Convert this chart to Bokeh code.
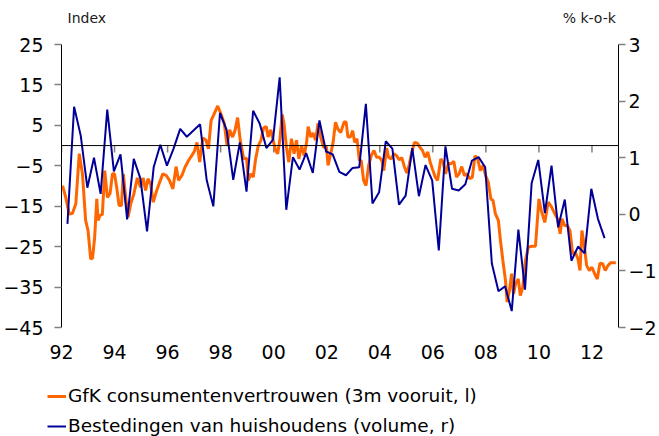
from bokeh.plotting import figure
from bokeh.models import Range1d, LinearAxis, FixedTicker, Legend, LegendItem, Label, Span
from bokeh.embed import file_html
from bokeh.resources import INLINE

FONT = "DejaVu Sans"

# GfK consumer confidence (3m ahead), left axis
gfk_years = [1992.04, 1992.16, 1992.29, 1992.41, 1992.54, 1992.67, 1992.79, 1992.91, 1993.00, 1993.10,
             1993.17, 1993.25, 1993.33, 1993.38, 1993.45, 1993.54, 1993.63, 1993.73, 1993.83, 1993.92,
             1994.00, 1994.08, 1994.17, 1994.26, 1994.33, 1994.42, 1994.51, 1994.61, 1994.73, 1994.86,
             1994.98, 1995.08, 1995.17, 1995.26, 1995.36, 1995.46, 1995.57, 1995.70, 1995.82, 1995.95,
             1996.07, 1996.20, 1996.32, 1996.41, 1996.54, 1996.66, 1996.79, 1996.91, 1997.01, 1997.11,
             1997.21, 1997.33, 1997.45, 1997.54, 1997.64, 1997.76, 1997.89, 1998.02, 1998.14, 1998.24,
             1998.34, 1998.45, 1998.54, 1998.64, 1998.74, 1998.87, 1998.98, 1999.04, 1999.14, 1999.23,
             1999.32, 1999.42, 1999.52, 1999.62, 1999.72, 1999.79, 1999.89, 1999.98, 2000.07, 2000.15,
             2000.23, 2000.32, 2000.39, 2000.48, 2000.57, 2000.67, 2000.77, 2000.86, 2000.95, 2001.05,
             2001.15, 2001.24, 2001.30, 2001.40, 2001.48, 2001.58, 2001.67, 2001.77, 2001.88, 2001.99,
             2002.05, 2002.15, 2002.24, 2002.33, 2002.42, 2002.53, 2002.65, 2002.73, 2002.80, 2002.89,
             2002.98, 2003.05, 2003.14, 2003.23, 2003.30, 2003.39, 2003.48, 2003.58, 2003.68, 2003.78,
             2003.88, 2003.98, 2004.08, 2004.15, 2004.26, 2004.33, 2004.43, 2004.53, 2004.63, 2004.73,
             2004.83, 2004.93, 2005.02, 2005.11, 2005.21, 2005.31, 2005.41, 2005.51, 2005.61, 2005.71,
             2005.81, 2005.90, 2005.98, 2006.09, 2006.18, 2006.30, 2006.39, 2006.48, 2006.59, 2006.69,
             2006.79, 2006.89, 2006.99, 2007.09, 2007.19, 2007.29, 2007.39, 2007.49, 2007.59, 2007.69,
             2007.79, 2007.89, 2007.99, 2008.09, 2008.19, 2008.27, 2008.36, 2008.47, 2008.55, 2008.64,
             2008.74, 2008.80, 2008.89, 2008.97, 2009.04, 2009.12, 2009.22, 2009.30, 2009.39, 2009.49,
             2009.60, 2009.74, 2009.87, 2010.00, 2010.09, 2010.22, 2010.35, 2010.47, 2010.60, 2010.70,
             2010.80, 2010.87, 2010.97, 2011.07, 2011.17, 2011.27, 2011.37, 2011.47, 2011.55, 2011.62,
             2011.70, 2011.80, 2011.90, 2012.00, 2012.10, 2012.20, 2012.30, 2012.40, 2012.50, 2012.60,
             2012.70, 2012.90]
gfk_values = [-9.9, -12.8, -16.9, -16.8, -14.4, -2.0, -7.0, -18.5, -21.0, -28.0,
              -27.9, -22.7, -13.2, -18.5, -17.3, -17.0, -6.2, -12.8, -11.9, -7.0,
              -7.0, -10.3, -14.8, -14.8, -7.0, -12.8, -17.7, -14.4, -11.9, -8.0,
              -10.3, -8.0, -11.1, -8.2, -9.5, -14.0, -11.5, -9.1, -7.0, -7.4,
              -8.6, -10.7, -5.2, -8.6, -7.4, -5.3, -3.7, -2.5, -1.4, 0.8,
              -4.1, 1.9, 1.3, -0.8, 6.2, 7.9, 9.8, 7.7, 5.4, 0.0,
              3.9, 2.1, 3.7, 6.9, 1.3, -3.3, -3.1, -8.6, -7.0, -7.8,
              -3.3, 0.0, 1.3, 4.4, 4.7, 2.1, 3.9, 1.3, -1.2, -2.0,
              1.3, 7.7, 5.4, -0.4, -4.1, 1.7, -2.0, 1.3, -3.3, 0.0,
              -2.5, 0.8, 4.7, 2.1, 3.1, 1.3, 5.5, 2.1, -0.4, -0.4,
              -4.9, -2.0, 0.8, 5.8, 4.1, 3.2, 5.8, 5.8, 2.1, 2.1,
              3.7, 0.8, 1.7, -3.7, -3.7, -8.6, -9.9, -4.9, -2.5, -1.2,
              -2.9, -2.9, -3.7, -6.2, -0.6, -2.9, -3.3, -2.0, -2.5, -3.5,
              -3.0, -5.3, -6.8, -4.7, -1.6, 0.8, 0.6, -0.4, -1.2, -2.9,
              -1.6, -4.1, -5.7, -7.8, -8.6, -3.3, -4.1, -7.0, -4.4, -4.5,
              -3.9, -7.8, -7.0, -5.2, -7.4, -7.0, -8.2, -7.8, -2.5, -3.3,
              -6.2, -4.9, -7.4, -9.1, -13.2, -13.6, -16.9, -18.5, -23.5, -28.4,
              -33.4, -38.7, -35.8, -31.7, -36.7, -34.2, -33.0, -37.1, -35.0, -28.5,
              -25.1, -24.9, -24.9, -13.2, -16.1, -19.0, -14.0, -15.1, -16.9, -18.1,
              -21.8, -18.1, -19.8, -19.8, -21.0, -26.8, -26.4, -28.0, -30.9, -21.0,
              -24.3, -29.7, -30.9, -30.1, -31.7, -33.0, -29.1, -29.2, -30.9, -29.7,
              -29.0, -29.0]

# Household spending (volume, % q-o-q), right axis, quarterly
spend_start = 1992.225
spend_values = [-0.17, 1.90, 1.39, 0.47, 1.00, 0.36, 1.85, 0.76, 1.06, -0.09,
                0.98, 0.63, -0.30, 0.83, 1.23, 0.86, 1.16, 1.51, 1.37, 1.48,
                1.59, 0.60, 0.14, 1.79, 1.49, 0.61, 1.27, 0.40, 1.83, 1.60,
                1.17, 1.32, 2.42, 0.08, 1.01, 0.79, 1.08, 0.73, 1.66, 1.11,
                1.06, 0.75, 0.69, 0.82, 0.83, 1.95, 0.19, 0.39, 1.29, 1.16,
                0.17, 0.33, 1.17, 0.32, 0.87, 0.60, -0.64, 1.20, 0.45, 0.42,
                0.53, 0.95, 1.01, 0.83, -0.87, -1.36, -1.27, -1.71, -0.27, -1.33,
                0.55, 0.96, 0.02, 0.86, -0.23, 0.26, -0.82, -0.57, -0.69, 0.45,
                -0.08, -0.42]
spend_years = [spend_start + 0.25 * i for i in range(len(spend_values))]

x_ticks = [1992, 1994, 1996, 1998, 2000, 2002, 2004, 2006, 2008, 2010, 2012]
x_tick_labels = ["92", "94", "96", "98", "00", "02", "04", "06", "08", "10", "12"]
left_ticks = [-45, -35, -25, -15, -5, 5, 15, 25]
right_ticks = [-2, -1, 0, 1, 2, 3]
left_lo, left_hi = -45, 25
right_lo, right_hi = -2, 3
series_names = ["GfK consumentenvertrouwen (3m vooruit, l)", "Bestedingen van huishoudens (volume, r)"]

ORANGE = "#FF6600"
BLUE = "#000099"
TICKC = "#808080"
TICK_FS = "19px"

W = 659
H_MAIN, H_LEG = 376, 60
TOP_PAD = 44          # header space above the axes (inside the frame)
BOTTOM = 49
AX_H = H_MAIN - TOP_PAD - BOTTOM   # pixel height of the -45..25 axis
per_px = (left_hi - left_lo) / AX_H
top_ext = left_hi + TOP_PAD * per_px
r_top_ext = right_hi + (top_ext - left_hi) * (right_hi - right_lo) / (left_hi - left_lo)

p = figure(width=W, height=H_MAIN, x_range=Range1d(1992, 2013), y_range=Range1d(left_lo, top_ext),
           output_backend="svg", toolbar_location=None,
           min_border_left=60, min_border_right=40, min_border_top=0, min_border_bottom=BOTTOM)
p.extra_y_ranges = {"r": Range1d(right_lo, r_top_ext)}
p.xgrid.visible = False
p.ygrid.visible = False
p.outline_line_color = None
p.background_fill_color = "white"
p.border_fill_color = "white"


def style_axis(ax, standoff):
    ax.minor_tick_line_color = None
    ax.minor_tick_out = 0
    ax.minor_tick_in = 0
    ax.axis_label_standoff = 0
    ax.axis_label_text_font_size = "0px"
    ax.major_label_standoff = standoff
    ax.major_label_text_font = FONT
    ax.major_label_text_font_size = TICK_FS
    ax.major_label_text_color = "black"


# bottom axis: labels only
xa = p.xaxis[0]
xa.ticker = FixedTicker(ticks=x_ticks)
xa.major_label_overrides = {t: l for t, l in zip(x_ticks, x_tick_labels)}
xa.axis_line_color = None
xa.major_tick_line_color = None
xa.major_tick_out = 0
xa.major_tick_in = 0
style_axis(xa, 17)

ya = p.yaxis[0]
ya.ticker = FixedTicker(ticks=left_ticks)
ya.bounds = (left_lo, left_hi)
ya.axis_line_color = "black"
ya.axis_line_width = 1
ya.major_tick_in = 0
ya.major_tick_out = 7
ya.major_tick_line_color = TICKC
ya.major_tick_line_width = 1.5
style_axis(ya, 11)

yr = LinearAxis(y_range_name="r", ticker=FixedTicker(ticks=right_ticks), bounds=(right_lo, right_hi))
yr.axis_line_color = "black"
yr.axis_line_width = 1
yr.major_tick_in = 0
yr.major_tick_out = 7
yr.major_tick_line_color = TICKC
yr.major_tick_line_width = 1.5
style_axis(yr, 3)
p.add_layout(yr, "right")

# zero line with year ticks
p.add_layout(Span(location=0, dimension="width", line_color="black", line_width=1))
p.segment(x0=x_ticks, y0=[0] * len(x_ticks), x1=x_ticks, y1=[-7 * per_px] * len(x_ticks),
          line_color=TICKC, line_width=1.5)

p.line(gfk_years, gfk_values, line_color=ORANGE, line_width=3)
p.line(spend_years, spend_values, y_range_name="r", line_color=BLUE, line_width=2)

head_y = left_hi + 27 * per_px
p.add_layout(Label(x=1992.23, y=head_y, text="Index", text_font=FONT, text_font_size="14px",
                   text_baseline="middle", text_align="left", text_color="#1a1a1a"))
p.add_layout(Label(x=2012.9, y=head_y, text="% k-o-k", text_font=FONT, text_font_size="14px",
                   text_baseline="middle", text_align="right", text_color="#1a1a1a"))

# legend strip below the chart (its line renderers lie outside its own ranges; only the keys show)
q = figure(width=W, height=H_LEG, x_range=Range1d(0, 1), y_range=Range1d(0, 1),
           output_backend="svg", toolbar_location=None,
           x_axis_location=None, y_axis_location=None,
           min_border_left=0, min_border_right=0, min_border_top=0, min_border_bottom=0)
q.xgrid.visible = False
q.ygrid.visible = False
q.outline_line_color = None
q.background_fill_color = "white"
q.border_fill_color = "white"
lr1 = q.line(gfk_years, gfk_values, line_color=ORANGE, line_width=3)
lr2 = q.line(spend_years, spend_values, line_color=BLUE, line_width=2)
legend = Legend(items=[LegendItem(label=series_names[0], renderers=[lr1]),
                       LegendItem(label=series_names[1], renderers=[lr2])],
                location=(47, 0), orientation="vertical",
                glyph_width=19, glyph_height=20, label_height=20, label_standoff=2,
                spacing=9, padding=0, margin=0, border_line_color=None,
                background_fill_alpha=0, label_text_font=FONT, label_text_font_size="18.5px",
                label_text_color="black")
q.add_layout(legend)

open("out.html", "w").write(file_html([p, q], INLINE))
